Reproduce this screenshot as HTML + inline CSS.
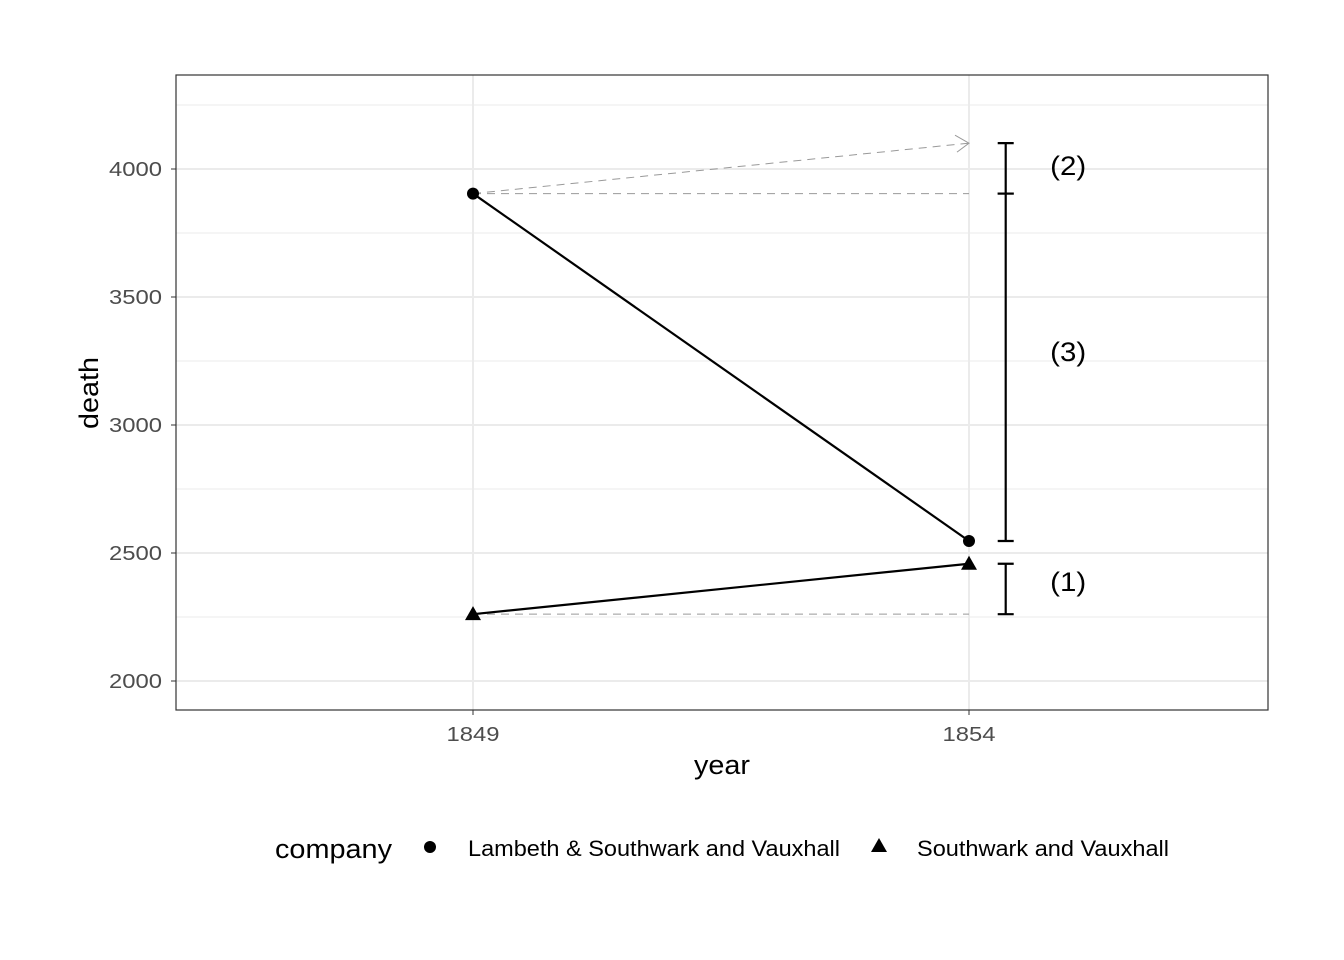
<!DOCTYPE html>
<html><head><meta charset="utf-8"><style>
body{margin:0;background:#fff;font-family:"Liberation Sans",Arial,sans-serif}
svg{display:block}
</style></head><body>
<svg id="chart" width="1344" height="960" font-family="Liberation Sans, Arial, sans-serif"></svg>
<script>
const years = [1849, 1854];
const lambeth = [3904, 2547];
const southwark = [2261, 2458];
const yTicks = [2000, 2500, 3000, 3500, 4000];
const yMinor = [2250, 2750, 3250, 3750, 4250];
const xTicks = [1849, 1854];

const NS = "http://www.w3.org/2000/svg";
const svg = document.getElementById('chart');
const P = {l:176, r:1268, t:75, b:710};
const xs = v => 473 + (v - 1849) * (969 - 473) / 5;
const ys = v => 681 - (v - 2000) * 0.256;
function mk(tag, attrs, parent){
  const e = document.createElementNS(NS, tag);
  for (const k in attrs) e.setAttribute(k, attrs[k]);
  (parent||svg).appendChild(e); return e;
}
yMinor.forEach(v=>{
  const l = mk('line',{x1:P.l,x2:P.r,y1:ys(v),y2:ys(v),stroke:'#ebebeb','stroke-width':1});
  
  
});
yTicks.forEach(v=>{
  const l = mk('line',{x1:P.l,x2:P.r,y1:ys(v),y2:ys(v),stroke:'#ebebeb','stroke-width':2});
  
  
  const t = mk('text',{x:P.l-14,y:ys(v)+7,'text-anchor':'end','font-size':20,fill:'#4d4d4d',textLength:53,lengthAdjust:'spacingAndGlyphs'});
  t.textContent = v;
  
  
  const tk = mk('line',{x1:P.l-5,x2:P.l,y1:ys(v),y2:ys(v),stroke:'#333','stroke-width':1});
  
  
});
xTicks.forEach(v=>{
  const l = mk('line',{x1:xs(v),x2:xs(v),y1:P.t,y2:P.b,stroke:'#ebebeb','stroke-width':2});
  
  
  const t = mk('text',{x:xs(v),y:P.b+31,'text-anchor':'middle','font-size':20,fill:'#4d4d4d',textLength:53,lengthAdjust:'spacingAndGlyphs'});
  t.textContent = v;
  
  
  const tk = mk('line',{x1:xs(v),x2:xs(v),y1:P.b,y2:P.b+5,stroke:'#333','stroke-width':1});
  
  
});
const cf = lambeth[0] + (southwark[1] - southwark[0]);
const d1 = mk('line',{x1:xs(years[0]),y1:ys(southwark[0]),x2:xs(years[1]),y2:ys(southwark[0]),stroke:'#999','stroke-width':1,'stroke-dasharray':'8,6'});


const d2 = mk('line',{x1:xs(years[0]),y1:ys(lambeth[0]),x2:xs(years[1]),y2:ys(lambeth[0]),stroke:'#999','stroke-width':1,'stroke-dasharray':'8,6'});


const d3 = mk('line',{x1:xs(years[0]),y1:ys(lambeth[0]),x2:xs(years[1]),y2:ys(cf),stroke:'#999','stroke-width':1,'stroke-dasharray':'8,6'});


const ax = xs(years[1]), ay = ys(cf);
const ah = mk('path',{d:`M${ax-14},${ay-8} L${ax},${ay} L${ax-12},${ay+9}`,fill:'none',stroke:'#999','stroke-width':1});


const l1 = mk('line',{x1:xs(years[0]),y1:ys(lambeth[0]),x2:xs(years[1]),y2:ys(lambeth[1]),stroke:'#000','stroke-width':2.2});


const l2 = mk('line',{x1:xs(years[0]),y1:ys(southwark[0]),x2:xs(years[1]),y2:ys(southwark[1]),stroke:'#000','stroke-width':2.2});


years.forEach((yr,i)=>{
  const c = mk('circle',{cx:xs(yr),cy:ys(lambeth[i]),r:6,fill:'#000'});
  
  
  const x=xs(yr), y=ys(southwark[i]);
  const t = mk('polygon',{points:`${x},${y-8} ${x-8},${y+6} ${x+8},${y+6}`,fill:'#000'});
  
  
});
const bx = xs(1854.37);
function ebar(lo, hi, label, labelVal, name){
  const g = mk('g',{});
  
  
  mk('line',{x1:bx,x2:bx,y1:ys(lo),y2:ys(hi),stroke:'#000','stroke-width':2.2},g);
  mk('line',{x1:bx-8,x2:bx+8,y1:ys(lo),y2:ys(lo),stroke:'#000','stroke-width':2.2},g);
  mk('line',{x1:bx-8,x2:bx+8,y1:ys(hi),y2:ys(hi),stroke:'#000','stroke-width':2.2},g);
  const t = mk('text',{x:xs(1855),y:ys(labelVal)+10,'text-anchor':'middle','font-size':27,fill:'#000',textLength:36,lengthAdjust:'spacingAndGlyphs'},g);
  t.textContent = label;
}
ebar(southwark[0], southwark[1], '(1)', 2390, 'bracket-1');
ebar(lambeth[0], cf, '(2)', 4015, 'bracket-2');
ebar(lambeth[1], lambeth[0], '(3)', 3290, 'bracket-3');
const bd = mk('rect',{x:P.l,y:P.t,width:P.r-P.l,height:P.b-P.t,fill:'none',stroke:'#333','stroke-width':1.2});


const xt = mk('text',{x:722,y:774,'text-anchor':'middle','font-size':27,fill:'#000',textLength:56,lengthAdjust:'spacingAndGlyphs'});
xt.textContent='year';


const yt = mk('text',{x:98,y:393,'text-anchor':'middle','font-size':27,fill:'#000',transform:'rotate(-90 98 393)',textLength:72,lengthAdjust:'spacingAndGlyphs'});
yt.textContent='death';


const lg = mk('g',{});


const lt = mk('text',{x:275,y:858,'font-size':27,fill:'#000',textLength:117,lengthAdjust:'spacingAndGlyphs'},lg);
lt.textContent='company';
const e1 = mk('g',{},lg);


mk('circle',{cx:430,cy:847,r:6,fill:'#000'},e1);
const e1t = mk('text',{x:468,y:856,'font-size':22,fill:'#000',textLength:372,lengthAdjust:'spacingAndGlyphs'},e1);
e1t.textContent='Lambeth & Southwark and Vauxhall';
const e2 = mk('g',{},lg);


mk('polygon',{points:'879,838 871,852 887,852',fill:'#000'},e2);
const e2t = mk('text',{x:917,y:856,'font-size':22,fill:'#000',textLength:252,lengthAdjust:'spacingAndGlyphs'},e2);
e2t.textContent='Southwark and Vauxhall';
</script>
</body></html>
